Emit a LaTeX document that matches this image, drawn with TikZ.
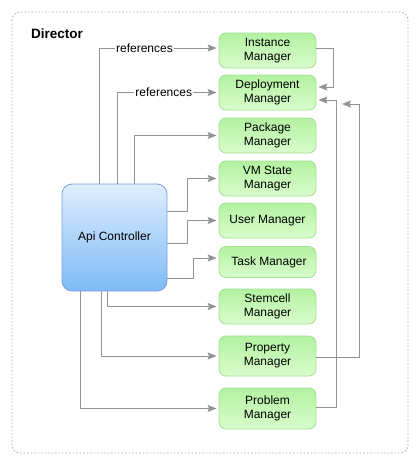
\documentclass[tikz,border=0pt]{standalone}
\usepackage{fontspec}
\setmainfont{Liberation Sans}
\usetikzlibrary{arrows.meta}
\definecolor{edgegray}{HTML}{939393}
\definecolor{framegray}{HTML}{AAAAAA}
\definecolor{mgrtop}{HTML}{B3F2A1}
\definecolor{mgrbot}{HTML}{D9FCCC}
\definecolor{mgrline}{HTML}{A3DF95}
\definecolor{apitop}{HTML}{DEEEFC}
\definecolor{apibot}{HTML}{7EBAF7}
\definecolor{apiline}{HTML}{7C9FDC}
\begin{document}
\begin{tikzpicture}[x=1pt,y=-1pt,
  every node/.style={font=\fontsize{12}{14}\selectfont, inner sep=0pt},
  manager/.style={draw=mgrline, line width=0.8pt, rounded corners=7pt,
    top color=mgrtop, bottom color=mgrbot, align=center,
    minimum width=97pt},
  api/.style={draw=apiline, line width=0.8pt, rounded corners=10pt,
    top color=apitop, bottom color=apibot,
    minimum width=105pt, minimum height=107pt},
  link/.style={draw=edgegray, line width=1pt,
    -{Stealth[length=9pt,width=7pt,inset=1.5pt]}, shorten >=2pt},
  reflabel/.style={fill=white, inner sep=1pt}
]
\useasboundingbox (0,0) rectangle (418,464);

% container
\draw[framegray, line width=0.8pt, dash pattern=on 1.5pt off 2pt, rounded corners=8pt]
  (12,12) rectangle (408,453);
\node[anchor=west, font=\fontsize{13.5}{16}\selectfont\bfseries] (title) at (31,34) {Director};

% managers
\node[manager, minimum height=35pt] (inst) at (267.5,50.5) {Instance\\Manager};
\node[manager, minimum height=35pt] (dep)  at (267.5,92.5) {Deployment\\Manager};
\node[manager, minimum height=35pt] (pkg)  at (267.5,135.5) {Package\\Manager};
\node[manager, minimum height=35pt] (vm)   at (267.5,178.5) {VM State\\Manager};
\node[manager, minimum height=35pt] (user) at (267.5,220.5) {User Manager};
\node[manager, minimum height=31pt] (task) at (267.5,262) {\hspace{3pt}Task Manager};
\node[manager, minimum height=35pt] (stem) at (267.5,306.5) {Stemcell\\Manager};
\node[manager, minimum height=40pt] (prop) at (267.5,356) {Property\\Manager};
\node[manager, minimum height=41pt] (prob) at (267.5,408.5) {Problem\\Manager};

% controller
\node[api] (api) at (114.5,237.5) {Api Controller};

% controller to managers, top side
\draw[link] (api.north -| 99,0) |- node[reflabel, pos=0.69] {references} (inst.west |- 0,48);
\draw[link] (api.north -| 117,0) |- node[reflabel, pos=0.73] {references} (dep.west);
\draw[link] (api.north -| 134,0) |- (pkg.west);

% controller to managers, right side
\draw[link] (api.east |- 0,211) -- (187,211) |- (vm.west);
\draw[link] (api.east |- 0,243) -- (187,243) |- (user.west);
\draw[link] (api.east |- 0,278) -- (193,278) |- (task.west |- 0,258);

% controller to managers, bottom side
\draw[link] (api.south -| 107,0) |- (stem.west);
\draw[link] (api.south -| 101,0) |- (prop.west);
\draw[link] (api.south -| 80,0) |- (prob.west);

% manager to manager
\draw[link] (inst.east |- 0,48) -| (333,87) -- (dep.east |- 0,87);
\draw[link] (prob.east |- 0,407) -| (336,100) -- (dep.east |- 0,100);
\coordinate (propend) at (342,104);
\draw[link, shorten >=0pt] (prop.east |- 0,357) -| (359,104) -- (propend);
\end{tikzpicture}
\end{document}
